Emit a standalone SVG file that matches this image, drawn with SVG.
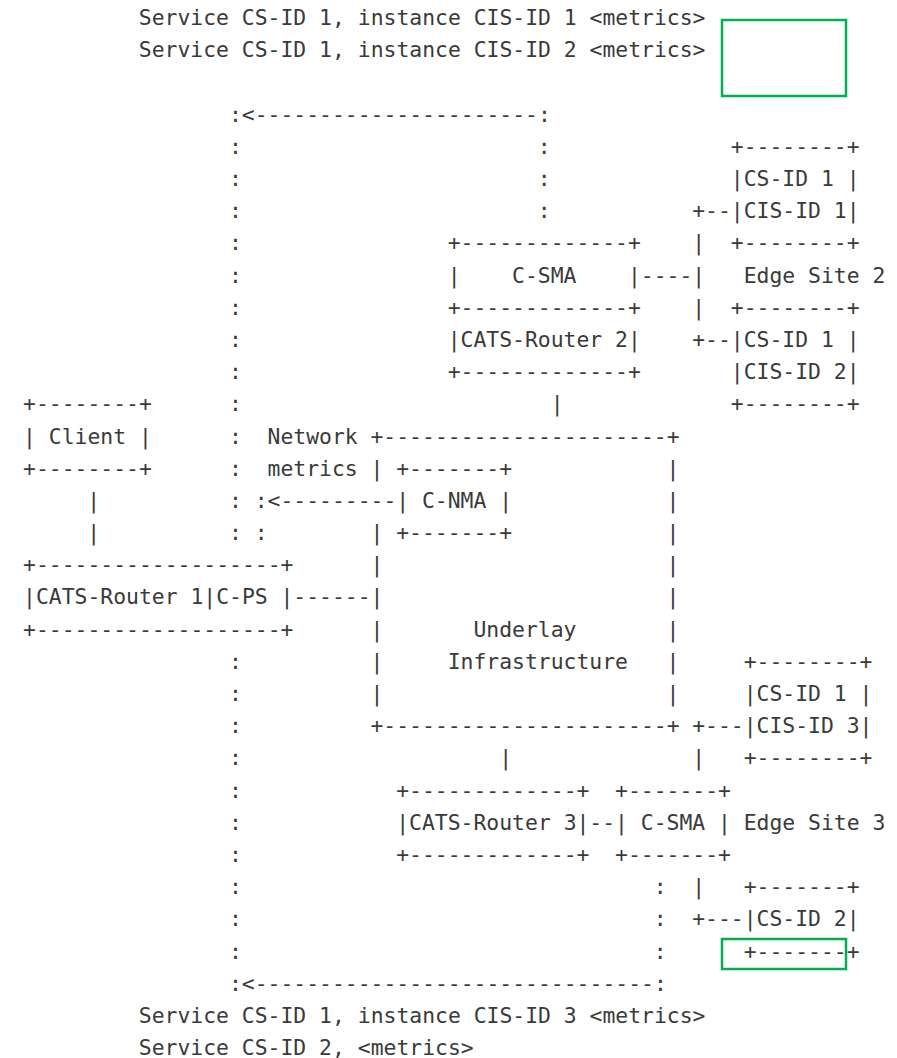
<svg xmlns="http://www.w3.org/2000/svg" width="897" height="1058" viewBox="0 0 897 1058">
  <style>
    text { font-family: "DejaVu Sans Mono", "Liberation Mono", monospace; font-size: 21.4px; fill: #3a3a3a; white-space: pre; }
    .hl { fill: none; stroke: #00b050; stroke-width: 2.5; }
  </style>
  <rect width="897" height="1058" fill="#ffffff"/>

  <!-- column x = 23 + col*12.87, row baseline y = 25 + row*32.19 -->

  <g id="metrics-top">
    <text x="138.83" y="25">Service CS-ID 1, instance CIS-ID 1 &lt;metrics&gt;</text>
    <text x="138.83" y="57.2">Service CS-ID 1, instance CIS-ID 2 &lt;metrics&gt;</text>
  </g>

  <g id="edge-site-2">
    <text x="730.85" y="153.8">+--------+</text>
    <text x="730.85" y="186">|CS-ID 1 |</text>
    <text x="730.85" y="218.1">|CIS-ID 1|</text>
    <text x="730.85" y="250.3">+--------+</text>
    <text x="743.72" y="282.5">Edge Site 2</text>
    <text x="730.85" y="314.7">+--------+</text>
    <text x="730.85" y="346.9">|CS-ID 1 |</text>
    <text x="730.85" y="379.1">|CIS-ID 2|</text>
    <text x="730.85" y="411.3">+--------+</text>
  </g>

  <g id="cats-router-2">
    <text x="447.71" y="250.3">+-------------+</text>
    <text x="447.71" y="282.5">|    C-SMA    |</text>
    <text x="447.71" y="314.7">+-------------+</text>
    <text x="447.71" y="346.9">|CATS-Router 2|</text>
    <text x="447.71" y="379.1">+-------------+</text>
  </g>

  <g id="client">
    <text x="23" y="411.3">+--------+</text>
    <text x="23" y="443.5">| Client |</text>
    <text x="23" y="475.7">+--------+</text>
  </g>

  <g id="underlay-infrastructure">
    <text x="267.53" y="443.5">Network</text>
    <text x="267.53" y="475.7">metrics</text>
    <text x="370.49" y="443.5">+----------------------+</text>
    <text x="370.49" y="475.7">|</text>
    <text x="666.5" y="475.7">|</text>
    <text x="666.5" y="507.9">|</text>
    <text x="370.49" y="540">|</text>
    <text x="666.5" y="540">|</text>
    <text x="370.49" y="572.2">|</text>
    <text x="666.5" y="572.2">|</text>
    <text x="370.49" y="604.4">|</text>
    <text x="666.5" y="604.4">|</text>
    <text x="370.49" y="636.6">|</text>
    <text x="473.45" y="636.6">Underlay</text>
    <text x="666.5" y="636.6">|</text>
    <text x="370.49" y="668.8">|</text>
    <text x="447.71" y="668.8">Infrastructure</text>
    <text x="666.5" y="668.8">|</text>
    <text x="370.49" y="701">|</text>
    <text x="666.5" y="701">|</text>
    <text x="370.49" y="733.2">+----------------------+</text>
  </g>

  <g id="c-nma">
    <text x="396.23" y="475.7">+-------+</text>
    <text x="396.23" y="507.9">| C-NMA |</text>
    <text x="396.23" y="540">+-------+</text>
  </g>

  <g id="cats-router-1">
    <text x="23" y="572.2">+-------------------+</text>
    <text x="23" y="604.4">|CATS-Router 1|C-PS |</text>
    <text x="23" y="636.6">+-------------------+</text>
  </g>

  <g id="edge-site-3">
    <text x="743.72" y="668.8">+--------+</text>
    <text x="743.72" y="701">|CS-ID 1 |</text>
    <text x="743.72" y="733.2">|CIS-ID 3|</text>
    <text x="743.72" y="765.4">+--------+</text>
    <text x="743.72" y="829.8">Edge Site 3</text>
    <text x="743.72" y="894.1">+-------+</text>
    <text x="743.72" y="926.3">|CS-ID 2|</text>
    <text x="743.72" y="958.5">+-------+</text>
  </g>

  <g id="cats-router-3">
    <text x="396.23" y="797.6">+-------------+</text>
    <text x="396.23" y="829.8">|CATS-Router 3|</text>
    <text x="396.23" y="861.9">+-------------+</text>
  </g>

  <g id="c-sma-3">
    <text x="615.02" y="797.6">+-------+</text>
    <text x="615.02" y="829.8">| C-SMA |</text>
    <text x="615.02" y="861.9">+-------+</text>
  </g>

  <g id="metrics-bottom">
    <text x="138.83" y="1022.9">Service CS-ID 1, instance CIS-ID 3 &lt;metrics&gt;</text>
    <text x="138.83" y="1055.1">Service CS-ID 2, &lt;metrics&gt;</text>
  </g>

  <g id="connectors">
    <!-- service metrics path from Edge Site 2 -->
    <text x="228.92" y="121.6">:&lt;----------------------:</text>
    <text x="537.8" y="153.8">:</text>
    <text x="537.8" y="186">:</text>
    <text x="537.8" y="218.1">:</text>
    <!-- long dotted path down to CATS-Router 1 -->
    <text x="228.92" y="153.8">:</text>
    <text x="228.92" y="186">:</text>
    <text x="228.92" y="218.1">:</text>
    <text x="228.92" y="250.3">:</text>
    <text x="228.92" y="282.5">:</text>
    <text x="228.92" y="314.7">:</text>
    <text x="228.92" y="346.9">:</text>
    <text x="228.92" y="379.1">:</text>
    <text x="228.92" y="411.3">:</text>
    <text x="228.92" y="443.5">:</text>
    <text x="228.92" y="475.7">:</text>
    <text x="228.92" y="507.9">:</text>
    <text x="228.92" y="540">:</text>
    <!-- network metrics from C-NMA -->
    <text x="254.66" y="507.9">:&lt;---------</text>
    <text x="254.66" y="540">:</text>
    <!-- dotted path from Edge Site 3 -->
    <text x="228.92" y="668.8">:</text>
    <text x="228.92" y="701">:</text>
    <text x="228.92" y="733.2">:</text>
    <text x="228.92" y="765.4">:</text>
    <text x="228.92" y="797.6">:</text>
    <text x="228.92" y="829.8">:</text>
    <text x="228.92" y="861.9">:</text>
    <text x="228.92" y="894.1">:</text>
    <text x="228.92" y="926.3">:</text>
    <text x="228.92" y="958.5">:</text>
    <text x="653.63" y="894.1">:</text>
    <text x="653.63" y="926.3">:</text>
    <text x="653.63" y="958.5">:</text>
    <text x="228.92" y="990.7">:&lt;-------------------------------:</text>
    <!-- Edge Site 2 attachment -->
    <text x="692.24" y="218.1">+--</text>
    <text x="692.24" y="250.3">|</text>
    <text x="640.76" y="282.5">----|</text>
    <text x="692.24" y="314.7">|</text>
    <text x="692.24" y="346.9">+--</text>
    <!-- CATS-Router 2 to underlay -->
    <text x="550.67" y="411.3">|</text>
    <!-- Client to CATS-Router 1 -->
    <text x="87.35" y="507.9">|</text>
    <text x="87.35" y="540">|</text>
    <!-- CATS-Router 1 to underlay -->
    <text x="293.27" y="604.4">------</text>
    <!-- Edge Site 3 attachment -->
    <text x="692.24" y="733.2">+---</text>
    <text x="692.24" y="765.4">|</text>
    <text x="499.19" y="765.4">|</text>
    <text x="589.28" y="829.8">--</text>
    <text x="692.24" y="894.1">|</text>
    <text x="692.24" y="926.3">+---</text>
  </g>

  <g id="highlights">
    <rect class="hl" x="722" y="20" width="124" height="76"/>
    <rect class="hl" x="722" y="939" width="124" height="30"/>
  </g>
</svg>
